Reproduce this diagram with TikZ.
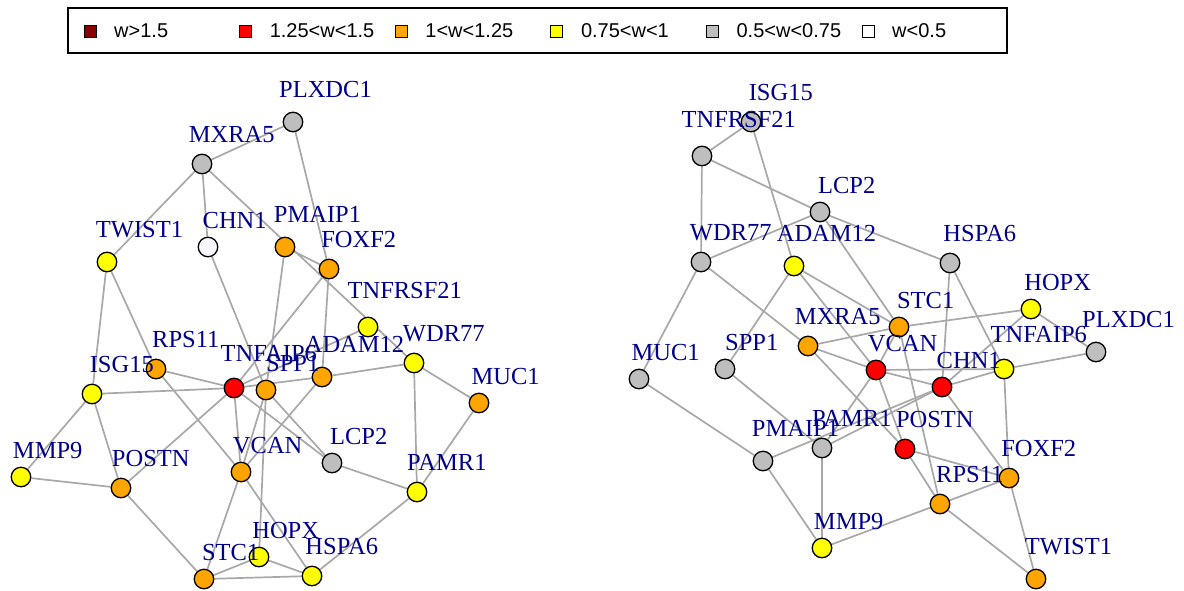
\documentclass[tikz,border=0pt]{standalone}
\usepackage{fontspec}
\setmainfont{Liberation Serif}
\newfontfamily\legfont{Liberation Sans}
\pgfdeclarelayer{bg}
\pgfdeclarelayer{vtx}
\pgfsetlayers{bg,vtx,main}
\definecolor{edgegray}{HTML}{A8A8A8}
\definecolor{labblue}{HTML}{00008B}
\definecolor{cdarkred}{HTML}{8B0000}
\definecolor{cred}{HTML}{FF0000}
\definecolor{corange}{HTML}{FFA500}
\definecolor{cyellow}{HTML}{FFFF00}
\definecolor{cgray}{HTML}{BEBEBE}
\definecolor{cwhite}{HTML}{F8F8FF}
\newcommand\vtx[6]{%
  \begin{pgfonlayer}{vtx}\node[vert,fill=#4] (#1) at (#2,#3) {};\end{pgfonlayer}
  \node[lab] (#1-lab) at ({#2+#6},{#3-#6}) {#5};}
\begin{document}
\begin{tikzpicture}[x=1pt,y=-1pt,
  vert/.style={circle,draw=black,line width=1.3pt,minimum size=19.5pt,inner sep=0pt},
  lab/.style={text=labblue,font=\fontsize{24.5}{24.5}\selectfont,inner sep=0pt},
  edge/.style={draw=edgegray,line width=1.7pt},
  legsq/.style={rectangle,draw=black,line width=1pt,minimum size=12pt,inner sep=0pt},
  legtxt/.style={anchor=west,font=\legfont\fontsize{20}{20}\selectfont,inner sep=0pt}]
\useasboundingbox (0,0) rectangle (1184,590);
% legend
\node[draw=black,line width=1.1pt,minimum width=939pt,minimum height=45pt,inner sep=0pt] (legend) at (537.5,30.5) {};
\node[legsq,fill=cdarkred] (k1) at (90,31) {};
\node[legtxt] (t1) at (114,31) {w>1.5};
\node[legsq,fill=cred] (k2) at (245.6,31) {};
\node[legtxt] (t2) at (269.6,31) {1.25<w<1.5};
\node[legsq,fill=corange] (k3) at (401.2,31) {};
\node[legtxt] (t3) at (425.2,31) {1<w<1.25};
\node[legsq,fill=cyellow] (k4) at (556.8,31) {};
\node[legtxt] (t4) at (580.8,31) {0.75<w<1};
\node[legsq,fill=cgray] (k5) at (712.4,31) {};
\node[legtxt] (t5) at (736.4,31) {0.5<w<0.75};
\node[legsq,fill=white] (k6) at (868,31) {};
\node[legtxt] (t6) at (892,31) {w<0.5};
% left network
\vtx{LPLXDC1}{293}{122}{cgray}{PLXDC1}{32.5}
\vtx{LMXRA5}{202}{164}{cgray}{MXRA5}{29.8}
\vtx{LTWIST1}{107}{262}{cyellow}{TWIST1}{32.5}
\vtx{LCHN1}{208}{247}{cwhite}{CHN1}{26.7}
\vtx{LPMAIP1}{285}{247}{corange}{PMAIP1}{32.5}
\vtx{LFOXF2}{329}{269}{corange}{FOXF2}{29.8}
\vtx{LTNFRSF21}{368}{327}{cyellow}{TNFRSF21}{36.8}
\vtx{LWDR77}{414}{363}{cyellow}{WDR77}{29.8}
\vtx{LMUC1}{479}{403}{corange}{MUC1}{26.7}
\vtx{LISG15}{92}{394}{cyellow}{ISG15}{29.8}
\vtx{LRPS11}{156}{369}{corange}{RPS11}{29.8}
\vtx{LTNFAIP6}{234}{388}{cred}{TNFAIP6}{34.8}
\vtx{LSPP1}{266}{390}{corange}{SPP1}{26.7}
\vtx{LADAM12}{322}{377}{corange}{ADAM12}{32.5}
\vtx{LVCAN}{241}{472}{corange}{VCAN}{26.7}
\vtx{LLCP2}{332}{463}{cgray}{LCP2}{26.7}
\vtx{LPAMR1}{417}{492}{cyellow}{PAMR1}{29.8}
\vtx{LMMP9}{21}{477}{cyellow}{MMP9}{26.7}
\vtx{LPOSTN}{121}{488}{corange}{POSTN}{29.8}
\vtx{LSTC1}{204}{579}{corange}{STC1}{26.7}
\vtx{LHOPX}{259}{557}{cyellow}{HOPX}{26.7}
\vtx{LHSPA6}{312}{576}{cyellow}{HSPA6}{29.8}
% right network
\vtx{RISG15}{751}{122}{cgray}{ISG15}{29.8}
\vtx{RTNFRSF21}{702}{156}{cgray}{TNFRSF21}{36.8}
\vtx{RLCP2}{820}{212}{cgray}{LCP2}{26.7}
\vtx{RWDR77}{701}{262}{cgray}{WDR77}{29.8}
\vtx{RADAM12}{794}{266}{cyellow}{ADAM12}{32.5}
\vtx{RHSPA6}{950}{263}{cgray}{HSPA6}{29.8}
\vtx{RHOPX}{1031}{309}{cyellow}{HOPX}{26.7}
\vtx{RSTC1}{899}{327}{corange}{STC1}{26.7}
\vtx{RPLXDC1}{1096}{352}{cgray}{PLXDC1}{32.5}
\vtx{RTNFAIP6}{1004}{369}{cyellow}{TNFAIP6}{34.8}
\vtx{RCHN1}{942}{387}{cred}{CHN1}{26.7}
\vtx{RMXRA5}{808}{346}{corange}{MXRA5}{29.8}
\vtx{RVCAN}{876}{370}{cred}{VCAN}{26.7}
\vtx{RMUC1}{639}{379}{cgray}{MUC1}{26.7}
\vtx{RSPP1}{725}{369}{cgray}{SPP1}{26.7}
\vtx{RPMAIP1}{763}{461}{cgray}{PMAIP1}{32.5}
\vtx{RPAMR1}{822}{448}{cgray}{PAMR1}{29.8}
\vtx{RPOSTN}{905}{449}{cred}{POSTN}{29.8}
\vtx{RFOXF2}{1009}{478}{corange}{FOXF2}{29.8}
\vtx{RRPS11}{940}{504}{corange}{RPS11}{29.8}
\vtx{RMMP9}{822}{548}{cyellow}{MMP9}{26.7}
\vtx{RTWIST1}{1036}{579}{corange}{TWIST1}{32.5}
\begin{pgfonlayer}{bg}
% left edges
\draw[edge] (LMXRA5) -- (LPLXDC1);
\draw[edge] (LMXRA5) -- (LTWIST1);
\draw[edge] (LMXRA5) -- (LCHN1);
\draw[edge] (LMXRA5.center) -- (LWDR77.center);
\draw[edge] (LPLXDC1) -- (LFOXF2);
\draw[edge] (LTWIST1) -- (LISG15);
\draw[edge] (LTWIST1) -- (LRPS11);
\draw[edge] (LCHN1) -- (LSPP1);
\draw[edge] (LPMAIP1) -- (LSPP1);
\draw[edge] (LPMAIP1) -- (LFOXF2);
\draw[edge] (LFOXF2) -- (LTNFAIP6);
\draw[edge] (LFOXF2) -- (LADAM12);
\draw[edge] (LTNFAIP6) -- (LTNFRSF21);
\draw[edge] (LADAM12) -- (LWDR77);
\draw[edge] (LWDR77) -- (LMUC1);
\draw[edge] (LWDR77) -- (LPAMR1);
\draw[edge] (LMUC1) -- (LPAMR1);
\draw[edge] (LISG15) -- (LTNFAIP6);
\draw[edge] (LISG15) -- (LMMP9);
\draw[edge] (LISG15) -- (LPOSTN);
\draw[edge] (LMMP9) -- (LPOSTN);
\draw[edge] (LRPS11) -- (LTNFAIP6);
\draw[edge] (LRPS11) -- (LVCAN);
\draw[edge] (LTNFAIP6) -- (LPOSTN);
\draw[edge] (LTNFAIP6) -- (LVCAN);
\draw[edge] (LTNFAIP6.center) -- (LADAM12.center);
\draw[edge] (LTNFAIP6) -- (LLCP2);
\draw[edge] (LSPP1) -- (LLCP2);
\draw[edge] (LSPP1) -- (LVCAN);
\draw[edge] (LSPP1) -- (LHOPX);
\draw[edge] (LADAM12) -- (LVCAN);
\draw[edge] (LVCAN) -- (LSTC1);
\draw[edge] (LVCAN) -- (LHSPA6);
\draw[edge] (LLCP2) -- (LPAMR1);
\draw[edge] (LPAMR1) -- (LHSPA6);
\draw[edge] (LPOSTN) -- (LSTC1);
\draw[edge] (LSTC1) -- (LHOPX);
\draw[edge] (LSTC1) -- (LHSPA6);
\draw[edge] (LHOPX) -- (LHSPA6);
% right edges
\draw[edge] (RISG15) -- (RTNFRSF21);
\draw[edge] (RISG15) -- (RADAM12);
\draw[edge] (RTNFRSF21) -- (RWDR77);
\draw[edge] (RTNFRSF21) -- (RLCP2);
\draw[edge] (RLCP2) -- (RWDR77);
\draw[edge] (RLCP2) -- (RHSPA6);
\draw[edge] (RLCP2) -- (RSTC1);
\draw[edge] (RWDR77) -- (RMUC1);
\draw[edge] (RWDR77) -- (RMXRA5);
\draw[edge] (RADAM12) -- (RSPP1);
\draw[edge] (RADAM12) -- (RSTC1);
\draw[edge] (RADAM12) -- (RVCAN);
\draw[edge] (RHSPA6) -- (RCHN1);
\draw[edge] (RHSPA6) -- (RTNFAIP6);
\draw[edge] (RHOPX) -- (RSTC1);
\draw[edge] (RHOPX) -- (RPLXDC1);
\draw[edge] (RHOPX) -- (RCHN1);
\draw[edge] (RPLXDC1) -- (RTNFAIP6);
\draw[edge] (RCHN1) -- (RTNFAIP6);
\draw[edge] (RVCAN) -- (RTNFAIP6);
\draw[edge] (RTNFAIP6) -- (RFOXF2);
\draw[edge] (RVCAN) -- (RCHN1);
\draw[edge] (RPAMR1) -- (RCHN1);
\draw[edge] (RPMAIP1.center) -- (RCHN1.center);
\draw[edge] (RMUC1) -- (RPMAIP1);
\draw[edge] (RSPP1) -- (RPAMR1);
\draw[edge] (RPMAIP1) -- (RMMP9);
\draw[edge] (RPAMR1) -- (RMMP9);
\draw[edge] (RMMP9) -- (RRPS11);
\draw[edge] (RVCAN) -- (RPAMR1);
\draw[edge] (RVCAN) -- (RPOSTN);
\draw[edge] (RSTC1) -- (RRPS11);
\draw[edge] (RMXRA5) -- (RPOSTN);
\draw[edge] (RPOSTN) -- (RRPS11);
\draw[edge] (RPOSTN) -- (RFOXF2);
\draw[edge] (RCHN1) -- (RFOXF2);
\draw[edge] (RRPS11) -- (RFOXF2);
\draw[edge] (RRPS11) -- (RTWIST1);
\draw[edge] (RFOXF2) -- (RTWIST1);
\draw[edge] (RMXRA5) -- (RSTC1);
\draw[edge] (RMXRA5) -- (RVCAN);
\draw[edge] (RSTC1) -- (RVCAN);
\end{pgfonlayer}
\end{tikzpicture}
\end{document}
